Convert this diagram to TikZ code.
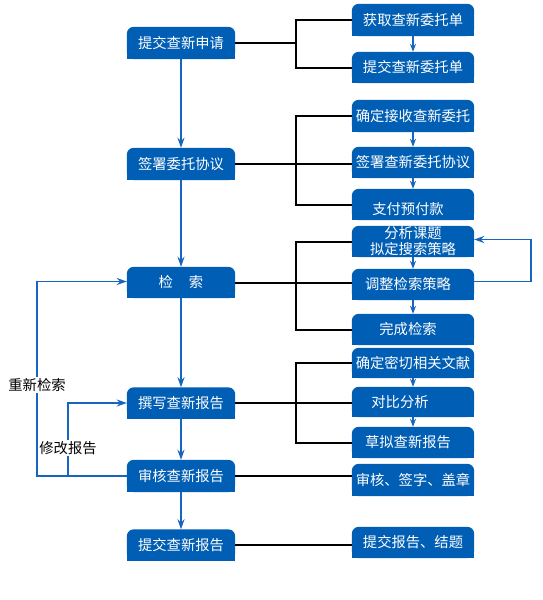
\documentclass[tikz,border=0pt]{standalone}
\usepackage{fontspec}
\newfontfamily\cjk{Noto Sans CJK SC}
\usetikzlibrary{arrows.meta,backgrounds}
\definecolor{bfill}{RGB}{0,94,180}
\definecolor{bline}{RGB}{22,101,190}
\begin{document}
\begin{tikzpicture}[x=1pt,y=-1pt,
  lbox/.style={text=white,font=\cjk\fontsize{14.3}{16}\selectfont,inner sep=0pt,minimum width=108pt,minimum height=32pt,align=center},
  rbox/.style={lbox,minimum width=122pt},
  flow/.style={draw=bline,line width=1.5pt,-{Stealth[length=10pt,width=7pt]}},
  sflow/.style={draw=bline,line width=1.5pt,-{Stealth[length=8pt,width=6pt]}},
  bus/.style={draw=black,line width=2pt},
  lab/.style={font=\cjk\fontsize{14.3}{16}\selectfont,fill=white,inner sep=1pt}]
\useasboundingbox (0,0) rectangle (542,600);
% left column
\node[lbox] (L1) at (181,43) {提交查新申请};
\node[lbox] (L2) at (181,164) {签署委托协议};
\node[lbox,minimum height=31pt] (L3) at (181,282.5) {检\hspace{16pt}索};
\node[lbox,minimum height=31pt] (L4) at (181,403) {撰写查新报告};
\node[lbox] (L5) at (181,476) {审核查新报告};
\node[lbox,minimum height=31pt] (L6) at (181,545) {提交查新报告};
% right column
\node[rbox] (R1) at (413,20) {获取查新委托单};
\node[rbox,minimum height=31pt] (R2) at (413,67.5) {提交查新委托单};
\node[rbox] (R3) at (413,116) {确定接收查新委托};
\node[rbox,minimum height=31pt] (R4) at (413,162.5) {签署查新委托协议};
\node[rbox,minimum height=31pt] (R5) at (413,204.5) {\raisebox{-5pt}[\height][\depth]{支付预付款}\hspace{10pt}};
\node[rbox,minimum height=31pt] (R6) at (413,241.5) {分析课题\hspace{10pt}\\拟定搜索策略\hspace{10pt}};
\node[rbox,minimum height=31pt] (R7) at (413,284.5) {调整检索策略\hspace{10pt}};
\node[rbox,minimum height=31pt] (R8) at (413,329.5) {完成检索\hspace{10pt}};
\node[rbox,minimum height=30pt] (R9) at (413,363) {确定密切相关文献};
\node[rbox,minimum height=30pt] (R10) at (413,402) {对比分析\hspace{26pt}};
\node[rbox,minimum height=31pt] (R11) at (413,442.5) {草拟查新报告\hspace{10pt}};
\node[rbox] (R12) at (413,480) {审核、签字、盖章};
\node[rbox,minimum height=31pt] (R13) at (413,542.5) {提交报告、结题};
% box backgrounds: rounded top corners only
\begin{scope}[on background layer]
\foreach \n in {L1,L2,L3,L4,L5,L6,R1,R2,R3,R4,R5,R6,R7,R8,R9,R10,R11,R12,R13}{
  \fill[bfill,rounded corners=7pt] (\n.south west) rectangle (\n.north east);
  \fill[bfill] (\n.south west) rectangle (\n.east);
}
\end{scope}
% bus coordinates
\coordinate (bx) at (296,0);
\coordinate (c1) at (37,0);
\coordinate (c2) at (68,0);
% main flow
\draw[flow] (L1) -- (L2);
\draw[flow] (L2) -- (L3);
\draw[flow] (L3) -- (L4);
\draw[flow] (L4) -- (L5);
\draw[flow] (L5) -- (L6);
% brackets
\draw[bus] (L1.east) -- (L1.east -| bx);
\draw[bus] (R1.west) -- (R1.west -| bx) -- (R2.west -| bx) -- (R2.west);
\draw[bus] (L2.east) -- (L2.east -| R4.west);
\draw[bus] (R3.west) -- (R3.west -| bx) -- (R5.west -| bx) -- (R5.west);
\draw[bus] (L3.east) -- (L3.east -| R7.west);
\draw[bus] (R6.west) -- (R6.west -| bx) -- (R8.west -| bx) -- (R8.west);
\draw[bus] (L4.east) -- (L4.east -| R10.west);
\draw[bus] (R9.west) -- (R9.west -| bx) -- (R11.west -| bx) -- (R11.west);
\draw[bus] (L5.east) -- (L5.east -| R12.west);
\draw[bus] (L6.east) -- (L6.east -| R13.west);
% right small arrows
\draw[sflow] (R1) -- (R2);
\draw[sflow] (R3) -- (R4);
\draw[sflow] (R4) -- (R5);
\draw[sflow] (R6) -- (R7);
\draw[sflow] (R7) -- (R8);
\draw[sflow] (R9) -- (R10);
\draw[sflow] (R10) -- (R11);
% loop on search strategy
\draw[flow] ([yshift=3pt]R7.east) -- ++(57,0) |- ([yshift=2pt]R6.east);
% feedback loops
\draw[flow] (L5.west) -- (L5.west -| c1) |- ([yshift=1pt]L3.west);
\draw[flow] (L5.west -| c2) |- (L4.west);
\node[lab] (t1) at (37,385) {重新检索};
\node[lab] (t2) at (68,448) {修改报告};
\end{tikzpicture}
\end{document}
